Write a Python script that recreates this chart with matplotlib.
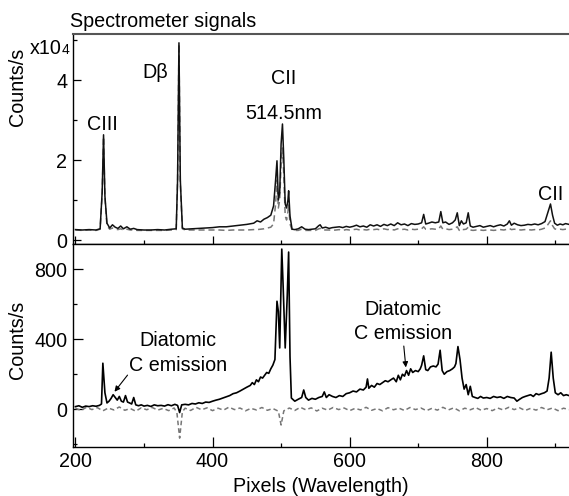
import matplotlib
matplotlib.use("Agg")
import matplotlib.pyplot as plt
from matplotlib.ticker import MultipleLocator

plt.rcParams['font.family'] = ['Liberation Sans', 'DejaVu Sans']

# ---------------- data ----------------
top_px = [200, 210, 220, 230, 236, 239, 241, 243, 246, 250, 254, 258, 262, 266, 270, 275, 280, 285, 290,
          300, 310, 320, 330, 340, 347, 349, 351, 353, 356, 360, 370, 380, 390, 400, 410, 420, 430, 440,
          450, 460, 465, 470, 475, 480, 485, 489, 492, 494, 496, 498, 500, 502, 504, 506, 508, 510, 511,
          513, 516, 520, 525, 530, 535, 540, 545, 550, 555, 557, 560, 565, 570, 575, 580, 585, 590, 595,
          600, 605, 610, 615, 620, 625, 630, 635, 640, 645, 650, 655, 660, 665, 670, 675, 680, 685, 690,
          695, 700, 705, 708, 711, 715, 720, 725, 730, 733, 736, 740, 745, 750, 754, 757, 760, 763, 766,
          770, 773, 776, 780, 785, 790, 795, 800, 805, 810, 815, 820, 825, 830, 833, 836, 840, 845, 850,
          855, 860, 865, 870, 875, 880, 885, 889, 893, 896, 899, 903, 907, 911, 915, 920]
top_solid = [0.26, 0.25, 0.26, 0.25, 0.28, 1.2, 2.63, 1.1, 0.42, 0.30, 0.38, 0.32, 0.29, 0.35, 0.28, 0.33, 0.27, 0.29, 0.26,
             0.25, 0.25, 0.26, 0.25, 0.27, 0.28, 1.5, 4.93, 1.5, 0.30, 0.27, 0.28, 0.29, 0.30, 0.31, 0.33, 0.33, 0.35, 0.37,
             0.39, 0.42, 0.48, 0.45, 0.52, 0.56, 0.62, 0.85, 1.5, 1.98, 1.0, 1.2, 2.4, 2.9, 2.0, 0.9, 0.8, 1.0, 1.23,
             0.6, 0.27, 0.26, 0.28, 0.33, 0.27, 0.26, 0.27, 0.28, 0.36, 0.38, 0.30, 0.32, 0.29, 0.31, 0.32, 0.33, 0.31, 0.34,
             0.32, 0.34, 0.37, 0.33, 0.35, 0.32, 0.38, 0.35, 0.38, 0.34, 0.39, 0.36, 0.40, 0.36, 0.43, 0.38, 0.40, 0.36, 0.41,
             0.39, 0.40, 0.43, 0.64, 0.40, 0.42, 0.45, 0.43, 0.45, 0.71, 0.43, 0.45, 0.39, 0.43, 0.50, 0.68, 0.36, 0.48, 0.40,
             0.43, 0.68, 0.35, 0.32, 0.34, 0.36, 0.32, 0.34, 0.36, 0.33, 0.36, 0.38, 0.35, 0.40, 0.48, 0.37, 0.42, 0.38, 0.36,
             0.37, 0.39, 0.38, 0.40, 0.38, 0.41, 0.46, 0.68, 0.90, 0.62, 0.42, 0.37, 0.40, 0.38, 0.41, 0.39]
top_dashed = [0.25, 0.24, 0.25, 0.24, 0.27, 1.15, 2.58, 1.05, 0.35, 0.27, 0.30, 0.27, 0.26, 0.28, 0.25, 0.27, 0.25, 0.25, 0.24,
              0.24, 0.24, 0.24, 0.24, 0.25, 0.26, 1.5, 4.9, 1.4, 0.28, 0.25, 0.25, 0.25, 0.25, 0.25, 0.25, 0.24, 0.25, 0.25,
              0.25, 0.26, 0.26, 0.27, 0.28, 0.30, 0.32, 0.40, 0.9, 1.5, 0.8, 1.0, 1.9, 2.3, 1.6, 0.6, 0.5, 0.7, 0.9,
              0.4, 0.25, 0.24, 0.24, 0.27, 0.24, 0.24, 0.24, 0.24, 0.28, 0.29, 0.25, 0.25, 0.25, 0.24, 0.25, 0.26, 0.24, 0.26,
              0.25, 0.26, 0.27, 0.25, 0.26, 0.25, 0.27, 0.26, 0.27, 0.25, 0.28, 0.26, 0.27, 0.25, 0.28, 0.26, 0.27, 0.25, 0.27,
              0.26, 0.27, 0.28, 0.33, 0.27, 0.27, 0.28, 0.27, 0.28, 0.35, 0.27, 0.28, 0.26, 0.27, 0.30, 0.33, 0.24, 0.28, 0.26,
              0.27, 0.32, 0.25, 0.24, 0.25, 0.25, 0.24, 0.25, 0.25, 0.24, 0.25, 0.26, 0.25, 0.27, 0.29, 0.26, 0.27, 0.26, 0.25,
              0.26, 0.26, 0.25, 0.26, 0.25, 0.27, 0.30, 0.38, 0.48, 0.36, 0.28, 0.26, 0.27, 0.26, 0.27, 0.26]

bot_px = [200, 205, 210, 215, 220, 225, 230, 235, 238, 240, 243, 246, 249, 252, 255, 258, 261, 264, 267, 270,
          273, 276, 279, 282, 285, 288, 292, 296, 300, 305, 310, 315, 320, 325, 330, 335, 340, 345, 349, 352,
          355, 360, 365, 370, 375, 380, 385, 390, 395, 400, 405, 410, 415, 420, 425, 430, 435, 440, 445, 450,
          455, 458, 461, 464, 467, 470, 473, 476, 479, 482, 485, 488, 491, 494, 496, 498, 501, 503, 506, 509,
          511, 513, 515, 520, 525, 530, 533, 536, 540, 545, 550, 555, 560, 563, 566, 570, 575, 580, 585, 590,
          595, 600, 605, 610, 615, 620, 624, 626, 628, 632, 636, 640, 644, 648, 652, 656, 660, 664, 668, 671,
          674, 677, 680, 683, 686, 689, 692, 696, 700, 703, 705, 708, 711, 714, 718, 722, 726, 729, 732, 735,
          738, 742, 746, 750, 753, 755, 758, 761, 764, 767, 770, 773, 776, 779, 783, 787, 791, 795, 800, 805,
          810, 815, 820, 825, 830, 835, 840, 844, 848, 852, 856, 860, 864, 868, 872, 876, 880, 884, 888, 891,
          894, 897, 900, 904, 908, 912, 916, 920]
bot_solid = [14, 19, 10, 17, 14, 19, 16, 21, 29, 262, 93, 35, 45, 61, 82, 66, 51, 72, 45, 40,
             77, 40, 35, 29, 66, 24, 19, 24, 17, 21, 15, 24, 19, 21, 17, 25, 19, 27, 21, -20,
             24, 27, 24, 32, 29, 36, 32, 40, 38, 45, 51, 56, 63, 70, 77, 88, 93, 103, 114, 125,
             135, 151, 140, 167, 156, 183, 177, 193, 209, 204, 230, 251, 283, 616, 558, 349, 914, 700, 349, 650,
             897, 300, 63, 45, 56, 66, 109, 66, 51, 61, 56, 66, 72, 98, 66, 82, 72, 66, 77, 72,
             88, 93, 103, 98, 114, 109, 125, 172, 119, 135, 125, 146, 140, 151, 162, 156, 167, 177, 156, 193,
             167, 199, 188, 220, 193, 230, 209, 220, 214, 230, 250, 304, 225, 220, 241, 246, 241, 257, 336, 220,
             199, 214, 220, 230, 241, 260, 357, 283, 177, 114, 140, 82, 130, 72, 66, 61, 72, 63, 66, 61,
             72, 66, 70, 61, 72, 66, 63, 45, 56, 66, 72, 77, 82, 72, 88, 82, 88, 93, 103, 177,
             325, 177, 93, 82, 93, 77, 82, 77]

bot_dash_px = [200, 208, 216, 224, 232, 240, 248, 256, 264, 272, 280, 288, 296, 304, 312, 320, 328, 336, 344, 348,
               352, 356, 360, 368, 376, 384, 392, 400, 408, 416, 424, 432, 440, 448, 456, 464, 472, 480, 488, 496,
               500, 504, 512, 520, 528, 536, 544, 552, 560, 568, 576, 584, 592, 600, 608, 616, 624, 632, 640, 648,
               656, 664, 672, 680, 688, 696, 704, 712, 720, 728, 736, 744, 752, 760, 768, 776, 784, 792, 800, 808,
               816, 824, 832, 840, 848, 856, 864, 872, 880, 888, 896, 904, 912, 920]
bot_dashed = [5, -8, 10, -3, 8, -10, 6, -5, 12, -7, 3, -12, 7, -4, 9, -6, 4, -9, 6, -20,
              -166, -15, 5, -8, 10, -4, 7, -9, 5, -6, 11, -3, 6, -10, 4, -5, 9, -7, 3, -12,
              -91, -10, 6, -8, 10, -4, 7, -11, 5, -6, 9, -3, 6, -9, 4, -5, 10, -7, 3, -10,
              8, -4, 5, -8, 9, -3, 6, -9, 4, -6, 10, -5, 7, -10, 5, -4, 8, -7, 3, -9,
              6, -5, 10, -3, 7, -8, 4, -6, 9, -4, 6, -9, 5, -3]

top_yticks = [0, 2, 4]
bot_yticks = [0, 400, 800]
x_ticks = [200, 400, 600, 800]

# ---------------- figure ----------------
W, H = 569, 496
fig = plt.figure(figsize=(W / 100, H / 100), dpi=100)
left = 72.7 / W
ax1 = fig.add_axes([left, 1 - 244 / H, 1 - left, (244 - 34) / H])
ax2 = fig.add_axes([left, 1 - 446.7 / H, 1 - left, (446.7 - 244) / H])

FS = 14.2

ax1.plot(top_px, top_dashed, color='#777777', lw=1.1, dashes=(4, 2.5))
ax1.plot(top_px, top_solid, color='#111111', lw=1.1)
ax1.set_xlim(196, 920)
ax1.set_ylim(-0.1, 5.15)
ax1.set_yticks(top_yticks)
ax1.yaxis.set_minor_locator(MultipleLocator(1))
ax1.set_xticks(x_ticks)
ax1.xaxis.set_minor_locator(MultipleLocator(100))
ax1.tick_params(axis='x', which='both', direction='in', labelbottom=False, top=False)
ax1.tick_params(axis='y', which='both', direction='in', right=False, labelsize=FS, pad=4)
ax1.tick_params(which='major', length=6, width=0.9)
ax1.tick_params(which='minor', length=3, width=0.9)
ax1.spines['right'].set_visible(False)
ax1.spines['top'].set_color('#555555')
ax1.spines['top'].set_linewidth(1.5)
for s in ['left', 'bottom']:
    ax1.spines[s].set_linewidth(1.0)

ax1.text(240, 2.9, 'CIII', ha='center', va='center', fontsize=FS)
ax1.text(316, 4.19, 'Dβ', ha='center', va='center', fontsize=FS)
ax1.text(504, 4.05, 'CII', ha='center', va='center', fontsize=FS)
ax1.text(504, 3.17, '514.5nm', ha='center', va='center', fontsize=FS)
ax1.text(893, 1.13, 'CII', ha='center', va='center', fontsize=FS)

ax2.plot(bot_dash_px, bot_dashed, color='#777777', lw=1.1, dashes=(3, 2))
ax2.plot(bot_px, bot_solid, color='black', lw=1.2)
ax2.set_xlim(196, 920)
ax2.set_ylim(-215, 943)
ax2.set_yticks(bot_yticks)
ax2.yaxis.set_minor_locator(MultipleLocator(200))
ax2.set_xticks(x_ticks)
ax2.xaxis.set_minor_locator(MultipleLocator(100))
ax2.tick_params(axis='both', which='both', direction='in', top=False, right=False, labelsize=FS)
ax2.tick_params(axis='y', pad=4)
ax2.tick_params(axis='x', pad=4)
ax2.tick_params(which='major', length=7, width=0.9)
ax2.tick_params(which='minor', length=3, width=0.9)
ax2.spines['right'].set_visible(False)
for s in ['left', 'bottom', 'top']:
    ax2.spines[s].set_linewidth(1.0)

ax2.text(349, 394, 'Diatomic', ha='center', va='center', fontsize=FS)
ax2.text(349, 251, 'C emission', ha='center', va='center', fontsize=FS)
ax2.annotate('', xy=(257, 99), xytext=(276, 194),
             arrowprops=dict(arrowstyle='-|>', lw=0.8, color='black', mutation_scale=8,
                             shrinkA=0, shrinkB=0))
ax2.text(678, 566, 'Diatomic', ha='center', va='center', fontsize=FS)
ax2.text(678, 429, 'C emission', ha='center', va='center', fontsize=FS)
ax2.annotate('', xy=(682, 238), xytext=(679, 360),
             arrowprops=dict(arrowstyle='-|>', lw=0.8, color='black', mutation_scale=8,
                             shrinkA=0, shrinkB=0))

# figure-level texts
fig.text(70 / W, 1 - 27 / H, 'Spectrometer signals', ha='left', va='baseline', fontsize=FS)
fig.text(62 / W, 1 - 54 / H, 'x10', ha='right', va='baseline', fontsize=FS)
fig.text(62 / W, 1 - 54 / H, '4', ha='left', va='baseline', fontsize=10)
fig.text(18 / W, 1 - 87 / H, 'Counts/s', rotation=90, ha='center', va='center', fontsize=FS)
fig.text(18 / W, 1 - 340 / H, 'Counts/s', rotation=90, ha='center', va='center', fontsize=FS)
fig.text(321 / W, 1 - 486 / H, 'Pixels (Wavelength)', ha='center', va='center', fontsize=FS)

fig.savefig('out.png', dpi=100)
